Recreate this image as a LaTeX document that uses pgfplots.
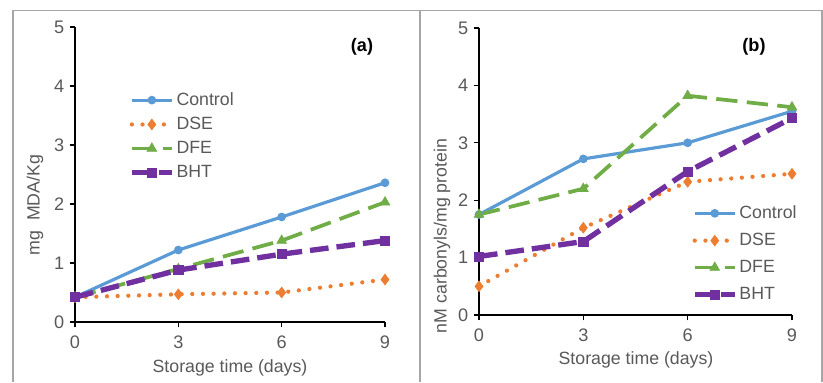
\documentclass[border=0pt]{standalone}
\usepackage{pgfplots}
\pgfplotsset{compat=1.18}
\usepackage{fontspec}
\setmainfont{Liberation Sans}
\definecolor{cCtrl}{HTML}{5B9BD5}
\definecolor{cDSE}{HTML}{ED7D31}
\definecolor{cDFE}{HTML}{70AD47}
\definecolor{cBHT}{HTML}{7030A0}
\definecolor{txt}{HTML}{595959}
\definecolor{frame}{HTML}{A6A6A6}
\pgfplotsset{
  panel/.style={
    scale only axis,
    axis lines*=left,
    axis line style={black, line width=1pt},
    xmin=0, xmax=9, ymin=0, ymax=5,
    xtick={0,3,6,9}, ytick={0,1,2,3,4,5},
    tick style={black, line width=1pt},
    tick align=outside,
    major tick length=4pt,
    tick label style={font=\fontsize{13.6}{16}\selectfont, text=txt},
    xticklabel style={yshift=-3pt},
    yticklabel style={xshift=-0.5pt},
    /pgf/number format/assume math mode=true,
    clip=false,
    legend cell align=left,
    legend style={draw=none, fill=none, inner sep=0pt,
      font=\fontsize{13.3}{16}\selectfont, text=txt,
      nodes={inner sep=1.5pt}},
    legend image code/.code={
      \draw[mark repeat=2,mark phase=2] plot coordinates {(0pt,0pt) (15pt,0pt) (30pt,0pt)};},
  },
  sCtrl/.style={color=cCtrl, line width=2.4pt, mark=*, mark size=2pt, mark options={solid}},
  sDSE/.style={color=cDSE, line width=3.2pt, line cap=round, dash pattern=on 0pt off 8pt, mark=diamond*, mark size=4pt, mark options={solid,line width=0.5pt}},
  sDFE/.style={color=cDFE, line width=2.8pt, dash pattern=on 16pt off 7pt, mark=triangle*, mark size=4.2pt, mark options={solid,line width=0.5pt}},
  sBHT/.style={color=cBHT, line width=4pt, dash pattern=on 14pt off 6pt, mark=square*, mark size=3.4pt, mark options={solid,line width=0.5pt, rounded corners=1.5pt}},
}
\begin{document}
\begin{tikzpicture}[x=1pt,y=1pt]
\path (0,0) rectangle (617.25,286.5);
% frame
\draw[frame, line width=1.2pt] (9.75,0) -- (9.75,278.5) -- (616.5,278.5) -- (616.5,0);
\draw[frame, line width=1.2pt] (315,0) -- (315,278.5);
% left panel
\begin{axis}[panel, at={(56.25pt,45pt)}, anchor=south west, width=232.5pt, height=221.25pt,
  legend style={at={(0.174,0.785)}, anchor=north west, row sep=4.3pt}]
\addplot[sCtrl] coordinates {(0,0.42) (3,1.22) (6,1.78) (9,2.36)};
\addlegendentry{Control}
\addplot[sDSE] coordinates {(0,0.42) (3,0.47) (6,0.50) (9,0.72)};
\addlegendentry{DSE}
\addplot[sDFE] coordinates {(0,0.42) (3,0.90) (6,1.38) (9,2.03)};
\addlegendentry{DFE}
\addplot[sBHT] coordinates {(0,0.42) (3,0.88) (6,1.15) (9,1.38)};
\addlegendentry{BHT}
\end{axis}
% right panel
\begin{axis}[panel, at={(359.25pt,50.25pt)}, anchor=south west, width=234.75pt, height=215.25pt,
  legend style={at={(0.68,0.388)}, anchor=north west, row sep=6.5pt}]
\addplot[sCtrl] coordinates {(0,1.75) (3,2.72) (6,3.00) (9,3.55)};
\addlegendentry{Control}
\addplot[sDSE] coordinates {(0,0.50) (3,1.52) (6,2.32) (9,2.46)};
\addlegendentry{DSE}
\addplot[sDFE] coordinates {(0,1.75) (3,2.20) (6,3.82) (9,3.62)};
\addlegendentry{DFE}
\addplot[sBHT] coordinates {(0,1.02) (3,1.28) (6,2.50) (9,3.43)};
\addlegendentry{BHT}
\end{axis}
% labels
\begin{scope}[every node/.style={text=txt, font=\fontsize{13.3}{16}\selectfont}]
\node[rotate=90] at (26.25,132.75) {mg~ MDA/Kg};
\node[rotate=90] at (331.5,109.5) {nM carbonyls/mg protein};
\node at (172.5,10.5) {Storage time (days)};
\node at (477,16.5) {Storage time (days)};
\end{scope}
\node[font=\fontsize{13.6}{16}\selectfont\bfseries, text=black] at (271.5,251.25) {(a)};
\node[font=\fontsize{13.6}{16}\selectfont\bfseries, text=black] at (565.5,251.25) {(b)};
\end{tikzpicture}
\end{document}
